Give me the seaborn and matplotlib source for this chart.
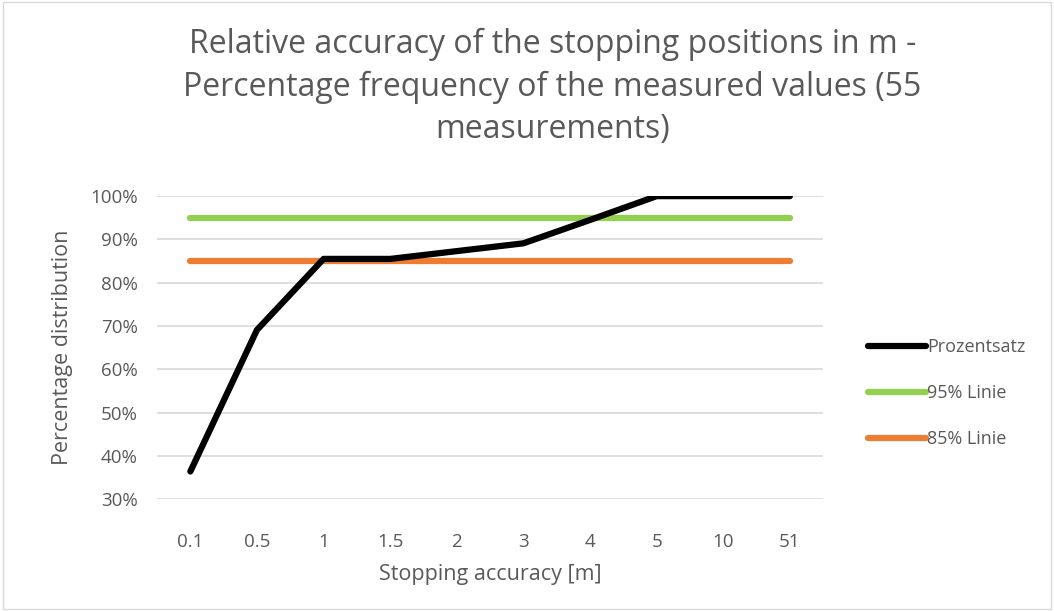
import seaborn as sns
import matplotlib.pyplot as plt
import pandas as pd
from matplotlib.ticker import PercentFormatter

# data
categories = ['0.1', '0.5', '1', '1.5', '2', '3', '4', '5', '10', '51']
prozentsatz = [36.4, 69.1, 85.5, 85.5, 87.3, 89.1, 94.5, 100, 100, 100]
linie_95 = [95] * len(categories)
linie_85 = [85] * len(categories)

df = pd.DataFrame({
    'x': categories * 3,
    'y': prozentsatz + linie_95 + linie_85,
    'series': ['Prozentsatz'] * 10 + ['95% Linie'] * 10 + ['85% Linie'] * 10,
})

sns.set_style('white')
plt.rcParams['font.family'] = ['Open Sans', 'DejaVu Sans']
txt = '#595959'

fig = plt.figure(figsize=(10.54, 6.11), dpi=100)
ax = fig.add_axes([0.149, 0.183, 0.632, 0.496])

palette = {'Prozentsatz': '#000000', '95% Linie': '#92d050', '85% Linie': '#ed7d31'}
sns.lineplot(data=df, x='x', y='y', hue='series', palette=palette, linewidth=4.5,
             sort=False, ax=ax, legend=False, zorder=3)
for l in ax.lines:
    l.set_solid_capstyle('round')
    l.set_solid_joinstyle('round')
# black line on top
ax.lines[0].set_zorder(4)

ax.set_xlim(-0.5, len(categories) - 0.5)
ax.set_ylim(30, 100)
ax.set_yticks(range(30, 101, 10))
ax.yaxis.set_major_formatter(PercentFormatter(decimals=0))
ax.grid(axis='y', color='#d9d9d9', linewidth=1.2)
ax.set_axisbelow(True)
for s in ax.spines.values():
    s.set_visible(False)
ax.tick_params(axis='both', length=0, labelsize=13.5, labelcolor=txt)
ax.tick_params(axis='y', pad=14)
ax.tick_params(axis='x', pad=24)

ax.set_xlabel('Stopping accuracy [m]', fontsize=15.5, color=txt, labelpad=10)
ax.set_ylabel('Percentage distribution', fontsize=15.5, color=txt, labelpad=12)

fig.suptitle('Relative accuracy of the stopping positions in m -\n'
             'Percentage frequency of the measured values (55\nmeasurements)',
             x=0.524, y=0.955, fontsize=23, color=txt, linespacing=1.38)

handles = [plt.Line2D([], [], color=palette[k], linewidth=4.5, solid_capstyle='round')
           for k in palette]
fig.legend(handles, list(palette.keys()), loc='center left', bbox_to_anchor=(0.808, 0.356),
           frameon=False, fontsize=13, labelcolor=txt, handlelength=3.2,
           handletextpad=0.1, labelspacing=1.55)

fig.patches.append(plt.Rectangle((0.003, 0.003), 0.994, 0.994, transform=fig.transFigure,
                                 fill=False, edgecolor='#d9d9d9', linewidth=1))

fig.savefig('out.png', dpi=100)
